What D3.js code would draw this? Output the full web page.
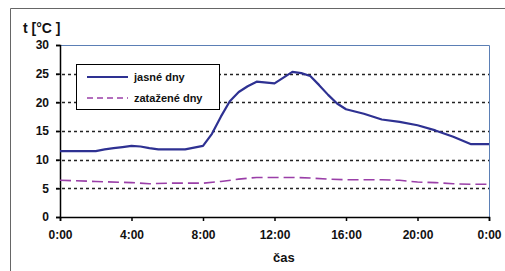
<!DOCTYPE html>
<html lang="cs">
<head>
<meta charset="UTF-8">
<title>Teplota během dne</title>
<style>
  body { margin: 0; background: #fff; }
  svg text { font-family: "Liberation Sans", Arial, sans-serif; fill: #111; }
</style>
</head>
<body>
<div id="chart"></div>
<script src="https://d3js.org/d3.v7.min.js"></script>
<script>
// hodiny a teploty
const jasneHodiny = [0, 1, 2, 2.5, 3, 3.5, 4, 4.5, 5, 5.5, 6, 7, 7.5, 8, 8.5, 9, 9.5, 10, 10.5, 11, 12, 13, 13.5, 14, 14.5, 15, 15.5, 16, 17, 18, 19, 20, 21, 22, 23, 24];
const jasneTeploty = [11.5, 11.5, 11.5, 11.8, 12.0, 12.2, 12.4, 12.3, 12.0, 11.8, 11.8, 11.8, 12.1, 12.4, 14.5, 17.5, 20.2, 21.8, 22.8, 23.6, 23.3, 25.3, 25.1, 24.6, 23.0, 21.3, 19.8, 18.8, 18.0, 17.0, 16.6, 16.0, 15.1, 14.0, 12.7, 12.7];
const zatazeneHodiny = [0, 2, 4, 5, 6, 8, 9, 10, 11, 12, 13, 14, 15, 16, 18, 19, 20, 21, 22, 23, 24];
const zatazeneTeploty = [6.4, 6.2, 6.0, 5.8, 5.9, 5.9, 6.2, 6.6, 6.9, 6.9, 6.9, 6.8, 6.6, 6.5, 6.5, 6.4, 6.1, 6.0, 5.8, 5.7, 5.7];
const xTicks = [0, 4, 8, 12, 16, 20, 24];
const yTicks = [0, 5, 10, 15, 20, 25, 30];
const legendLabels = ["jasné dny", "zatažené dny"];

const W = 505, H = 271;
const svg = d3.select("#chart").append("svg").attr("width", W).attr("height", H);

// vnější rámeček
svg.append("path").attr("d", "M10.5," + H + "V8.5H" + W)
  .attr("fill", "none").attr("stroke", "#666").attr("stroke-width", 1);

const pL = 60, pR = 489, pT = 45, pB = 217;
const x = d3.scaleLinear().domain([0, 24]).range([pL, pR]);
const y = d3.scaleLinear().domain([0, 30]).range([pB, pT]);

// mřížka
svg.append("g").selectAll("line").data(yTicks.filter(d => d > 0 && d < 30)).join("line")
  .attr("x1", pL - 4).attr("x2", pR)
  .attr("y1", d => Math.round(y(d)) + 0.5).attr("y2", d => Math.round(y(d)) + 0.5)
  .attr("stroke", "#222").attr("stroke-width", 1.5).attr("stroke-dasharray", "3,3");

// horní a pravý okraj plochy
svg.append("path").attr("d", `M${pL},${pT + 0.5}H${pR + 0.5}V${pB}`)
  .attr("fill", "none").attr("stroke", "#5b7fb5").attr("stroke-width", 1);

const yAxis = svg.append("g").attr("transform", `translate(${pL},0)`)
  .call(d3.axisLeft(y).tickValues(yTicks).tickSize(4).tickPadding(7));
yAxis.select(".domain").attr("stroke", "#000").attr("stroke-width", 1.5);
yAxis.selectAll(".tick line").attr("stroke", "#000").attr("stroke-width", 1.5);
yAxis.selectAll("text").style("font-size", "12px").style("font-weight", "bold").attr("fill", "#111");

const xAxis = svg.append("g").attr("transform", `translate(0,${pB})`)
  .call(d3.axisBottom(x).tickValues(xTicks).tickSize(4).tickPadding(9)
    .tickFormat(d => (d % 24) + ":00"));
xAxis.select(".domain").attr("stroke", "#000").attr("stroke-width", 1.5);
xAxis.selectAll(".tick line").attr("stroke", "#000").attr("stroke-width", 1.5);
xAxis.selectAll("text").style("font-size", "12px").style("font-weight", "bold").attr("fill", "#111");

// řady
const line = d3.line().x(d => x(d[0])).y(d => y(d[1]));
svg.append("path").datum(d3.zip(zatazeneHodiny, zatazeneTeploty))
  .attr("d", line).attr("fill", "none")
  .attr("stroke", "#9a3fa8").attr("stroke-width", 1.6).attr("stroke-dasharray", "11,5");
svg.append("path").datum(d3.zip(jasneHodiny, jasneTeploty))
  .attr("d", line).attr("fill", "none")
  .attr("stroke", "#2e3192").attr("stroke-width", 2.2).attr("stroke-linejoin", "round");

// popisky os
svg.append("text").attr("x", 23).attr("y", 33).text("t [°C ]")
  .style("font-size", "14px").style("font-weight", "bold");
svg.append("text").attr("x", 273).attr("y", 262).text("čas")
  .style("font-size", "13px").style("font-weight", "bold");

// legenda
const lg = svg.append("g");
lg.append("rect").attr("x", 76.5).attr("y", 64.5).attr("width", 143).attr("height", 45)
  .attr("fill", "#fff").attr("stroke", "#000").attr("stroke-width", 1);
const legendStyles = [
  { color: "#2e3192", width: 2.2, dash: null },
  { color: "#9a3fa8", width: 1.6, dash: "6,4" }
];
legendLabels.forEach((lab, i) => {
  const ly = 77 + i * 21;
  lg.append("line").attr("x1", 87).attr("x2", 128).attr("y1", ly).attr("y2", ly)
    .attr("stroke", legendStyles[i].color).attr("stroke-width", legendStyles[i].width)
    .attr("stroke-dasharray", legendStyles[i].dash);
  lg.append("text").attr("x", 134).attr("y", ly + 4).text(lab)
    .style("font-size", "11px").style("font-weight", "bold");
});
</script>
</body>
</html>
